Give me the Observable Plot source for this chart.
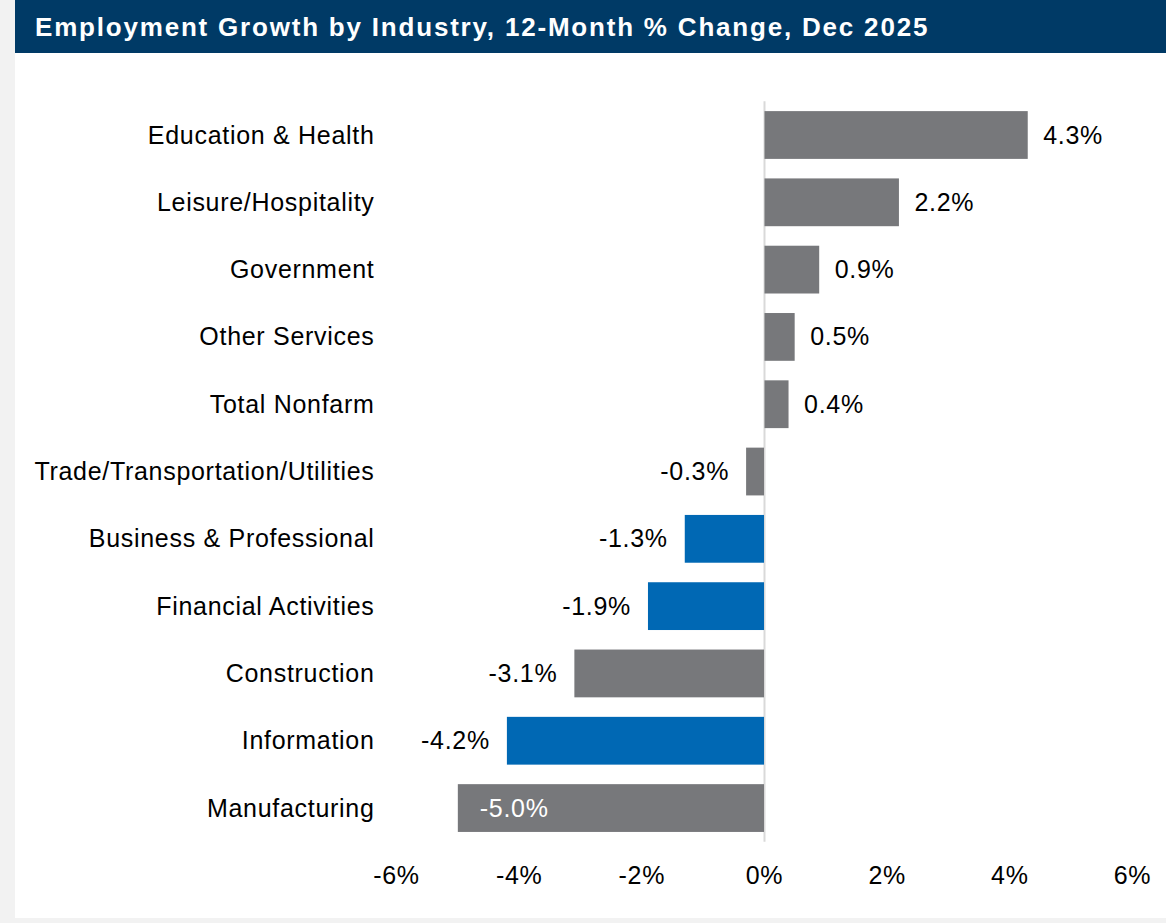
<!DOCTYPE html>
<html>
<head>
<meta charset="utf-8">
<script src="https://cdn.jsdelivr.net/npm/d3@7"></script>
<script src="https://cdn.jsdelivr.net/npm/@observablehq/plot@0.6"></script>
<style>
  html, body { margin: 0; padding: 0; background: #f2f2f2; }
  #panel { position: absolute; left: 15px; top: 0; width: 1151px; height: 918px; background: #ffffff; overflow: hidden; }
  #title { height: 53px; background: #003a66; color: #ffffff; font-family: "Liberation Sans", Arial, sans-serif; font-weight: bold; font-size: 26px; letter-spacing: 1.8px; line-height: 55px; padding-left: 20px; box-sizing: border-box; white-space: nowrap; }
  #chart svg { display: block; }
  #chart svg text { letter-spacing: 0.7px; }
</style>
</head>
<body>
<div id="panel">
  <div id="title">Employment Growth by Industry, 12-Month % Change, Dec 2025</div>
  <div id="chart"></div>
</div>
<script>
const categories = ["Education & Health", "Leisure/Hospitality", "Government", "Other Services", "Total Nonfarm", "Trade/Transportation/Utilities", "Business & Professional", "Financial Activities", "Construction", "Information", "Manufacturing"];
const values = [4.3, 2.2, 0.9, 0.5, 0.4, -0.3, -1.3, -1.9, -3.1, -4.2, -5.0];
const highlighted = ["Business & Professional", "Financial Activities", "Information"];
const insideLabels = ["Manufacturing"];
const xTicks = [-6, -4, -2, 0, 2, 4, 6];

const data = categories.map((c, i) => ({
  category: c,
  value: values[i],
  highlight: highlighted.includes(c),
  inside: insideLabels.includes(c)
}));
const fmt = v => v.toFixed(1) + "%";

const chart = Plot.plot({
  width: 1151,
  height: 865,
  marginLeft: 381,
  marginRight: 34,
  marginTop: 48.35,
  marginBottom: 76.3,
  style: { fontFamily: "'Liberation Sans', Arial, sans-serif", fontSize: "25px", color: "#000000", background: "transparent" },
  x: { domain: [-6, 6] },
  y: { domain: categories, paddingInner: 0.29, paddingOuter: 0.145, round: false },
  marks: [
    Plot.ruleX([0], { stroke: "#d9d9d9", strokeWidth: 2 }),
    Plot.barX(data, { x: "value", y: "category", fill: d => d.highlight ? "#0068b4" : "#77787b", insetLeft: 0.5 }),
    Plot.text(data.filter(d => d.value >= 0), { x: "value", y: "category", text: d => fmt(d.value), textAnchor: "start", dx: 15, fill: "#000000", fontSize: 25 }),
    Plot.text(data.filter(d => d.value < 0 && !d.inside), { x: "value", y: "category", text: d => fmt(d.value), textAnchor: "end", dx: -17, fill: "#000000", fontSize: 25 }),
    Plot.text(data.filter(d => d.inside), { x: "value", y: "category", text: d => fmt(d.value), textAnchor: "start", dx: 22, fill: "#ffffff", fontSize: 25 }),
    Plot.axisX({ ticks: xTicks, tickFormat: d => d + "%", tickSize: 0, tickPadding: 24, label: null, fontSize: 25 }),
    Plot.axisY({ tickSize: 0, tickPadding: 22, label: null, fontSize: 25 })
  ]
});
document.getElementById("chart").appendChild(chart);
</script>
</body>
</html>
